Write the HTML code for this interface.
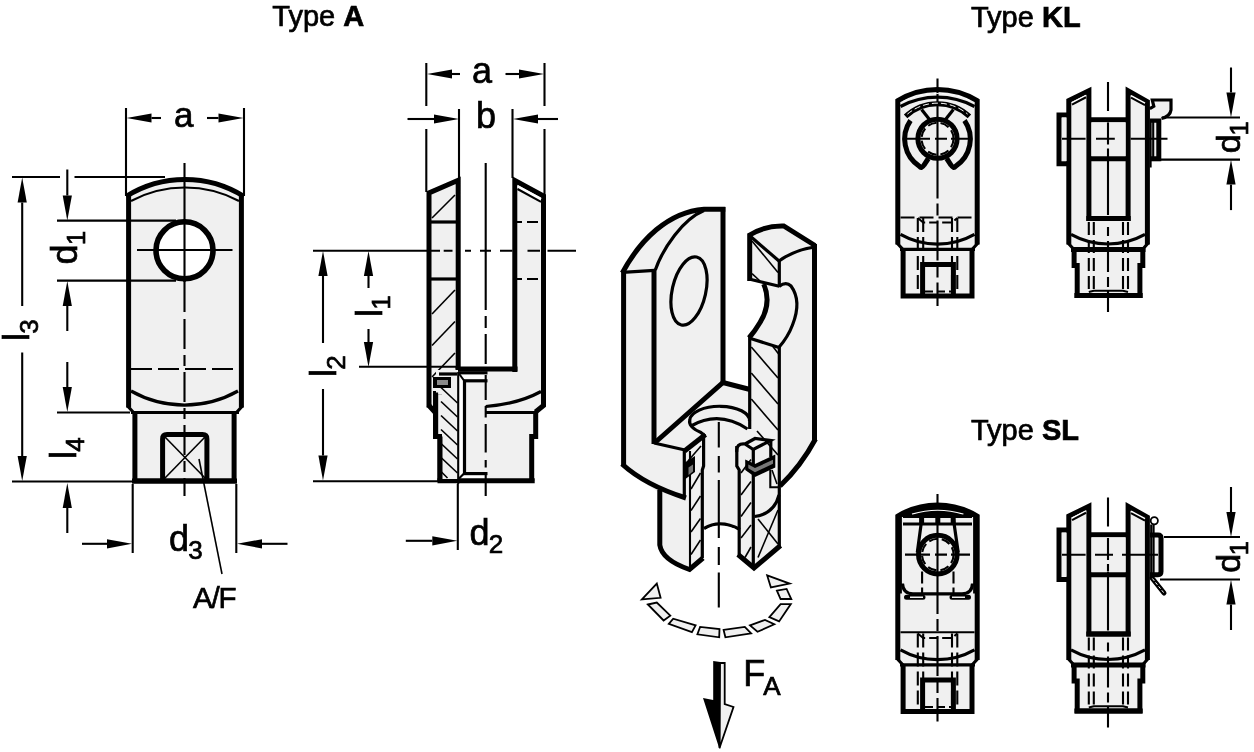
<!DOCTYPE html>
<html lang="en"><head><meta charset="utf-8"><title>Clevis types A, KL, SL</title>
<style>
html,body{margin:0;padding:0;background:#fff;}
body{width:1254px;height:752px;overflow:hidden;}
svg{display:block;font-family:"Liberation Sans",Arial,Helvetica,sans-serif;}
.t{fill:none;stroke:#000;stroke-width:5;stroke-linejoin:miter;}
.m{fill:none;stroke:#000;stroke-width:3.2;}
.n{fill:none;stroke:#000;stroke-width:2.1;}
.h{fill:none;stroke:#000;stroke-width:1.6;}
.f{fill:#000;stroke:none;}
.g{fill:#f0f0f0;stroke:none;}
text{fill:#000;stroke:#000;stroke-width:0.7;}
</style></head><body>
<svg width="1254" height="752" viewBox="0 0 1254 752" style="filter:grayscale(1)">
<rect width="1254" height="752" fill="#fff"/>
<text x="272.3" y="26" font-size="29">Type <tspan font-weight="bold">A</tspan></text>
<text x="971" y="26.5" font-size="29">Type <tspan font-weight="bold">KL</tspan></text>
<text x="971" y="440" font-size="29">Type <tspan font-weight="bold">SL</tspan></text>
<path class="g" d="M128.5,407.5L128.5,196A108,108 0 0 1 241.5,196L241.5,407.5L236.5,412.5L234.5,412.5L234.5,481L134.5,481L134.5,412.5L133.5,412.5Z" />
<path class="n" d="M126,108L126,196" />
<path class="n" d="M244,108L244,196" />
<path class="n" d="M161.0,118.0L151.5,118.0"/>
<path class="f" d="M126.5,118.0L151.5,113.4L151.5,122.6Z"/>
<path class="n" d="M207.0,118.0L218.5,118.0"/>
<path class="f" d="M243.5,118.0L218.5,122.6L218.5,113.4Z"/>
<text x="183.7" y="127.3" font-size="35" text-anchor="middle" font-weight="normal" >a</text>
<path class="n" d="M12,177L60,177" />
<path class="n" d="M74.5,177L165,177" />
<path class="n" d="M12,481.5L133,481.5" />
<path class="n" d="M22.2,306.0L22.2,202.5"/>
<path class="f" d="M22.2,177.5L26.8,202.5L17.6,202.5Z"/>
<path class="n" d="M22.2,352.5L22.2,456.0"/>
<path class="f" d="M22.2,481.0L17.6,456.0L26.8,456.0Z"/>
<text x="29" y="341" font-size="36" transform="rotate(-90 29 341)">l<tspan font-size="26" dy="8.5" dx="-0.8">3</tspan></text>
<path class="n" d="M57,220.6L176,220.6" />
<path class="n" d="M57,280.6L176,280.6" />
<path class="n" d="M67.3,169.5L67.3,195.5"/>
<path class="f" d="M67.3,220.5L62.7,195.5L71.9,195.5Z"/>
<path class="n" d="M67.3,331.0L67.3,306.0"/>
<path class="f" d="M67.3,281.0L71.9,306.0L62.7,306.0Z"/>
<text x="77" y="264.5" font-size="36" transform="rotate(-90 77 264.5)">d<tspan font-size="26" dy="8" dx="-0.8">1</tspan></text>
<path class="n" d="M57,412.5L130,412.5" />
<path class="n" d="M67.3,362.0L67.3,387.0"/>
<path class="f" d="M67.3,412.0L62.7,387.0L71.9,387.0Z"/>
<path class="n" d="M67.3,533.0L67.3,508.0"/>
<path class="f" d="M67.3,483.0L71.9,508.0L62.7,508.0Z"/>
<text x="76" y="459" font-size="36" transform="rotate(-90 76 459)">l<tspan font-size="26" dy="8" dx="-0.8">4</tspan></text>
<path class="n" d="M132.7,484L132.7,553" />
<path class="n" d="M236.3,484L236.3,553" />
<path class="n" d="M82.0,543.8L107.0,543.8"/>
<path class="f" d="M132.0,543.8L107.0,548.4L107.0,539.2Z"/>
<path class="n" d="M287.5,543.8L262.0,543.8"/>
<path class="f" d="M237.0,543.8L262.0,539.2L262.0,548.4Z"/>
<text x="169" y="551" font-size="36" >d<tspan font-size="26" dy="8" dx="-0.8">3</tspan></text>
<path class="n" d="M184.5,163L184.5,312" />
<path class="n" d="M184.5,319L184.5,496" stroke-dasharray="30 6 11 6"/>
<path class="n" d="M137,250L232.5,250" />
<path class="t" d="M128.6,407.5L128.6,194.5M241.4,407.5L241.4,194.5" stroke-width="5.4"/>
<path class="t" d="M126.2,196.4A111,111 0 0 1 243.8,196.4" stroke-width="4.8"/>
<path class="n" d="M131,201A115,115 0 0 1 239,201" stroke-width="2.2"/>
<path class="m" d="M127.6,406L133.5,412.5M242.4,406L236.5,412.5" stroke-width="3.6"/>
<path class="m" d="M131,412.5L239,412.5" />
<path class="m" d="M131,391A109,109 0 0 0 238,391" stroke-width="3.4"/>
<path class="n" d="M131,369L238,369" stroke-dasharray="21 6"/>
<path class="t" d="M134.9,412L134.9,481L234.1,481L234.1,412" stroke-width="6"/>
<path class="t" d="M132,481L237,481" stroke-width="6.4"/>
<circle cx="184.5" cy="250.3" r="28.5" fill="#fff" stroke="#000" stroke-width="5.6"/>
<path class="n" d="M184.5,219L184.5,282" />
<path class="n" d="M156,250L213,250" />
<path class="t" d="M162.6,481L162.6,439Q162.6,434.6 167,434.6L202.5,434.6Q206.9,434.6 206.9,439L206.9,481" stroke-width="5.4"/>
<path class="h" d="M164,436L206,479" stroke-width="2"/>
<path class="h" d="M206,436L164,479" stroke-width="2"/>
<path class="h" d="M199,459L222,574" stroke-width="1.9"/>
<text x="193" y="607.5" font-size="29.5" text-anchor="start" font-weight="normal" letter-spacing="-1.2">A/F</text>
<path class="g" d="M428.8,193L458,180.5L458,369L428.8,369Z" />
<path class="g" d="M428.8,369L458,369L458,481L440,481L440,436L435.5,436L435.5,413L428.8,407Z" />
<path class="g" d="M514.8,181L543.5,196.5L543.5,406L536,412.5L536,436L532,436L532,481L485.7,481L485.7,369L514.8,369Z" />
<path class="g" d="M464.5,381L485.7,381L485.7,474L464.5,474Z" />
<path class="n" d="M426.3,63L426.3,106" />
<path class="n" d="M426.3,129L426.3,192" />
<path class="n" d="M544.5,63L544.5,106" />
<path class="n" d="M544.5,129L544.5,195" />
<path class="n" d="M460.0,74.0L452.0,74.0"/>
<path class="f" d="M427.0,74.0L452.0,69.4L452.0,78.6Z"/>
<path class="n" d="M505.5,74.0L519.0,74.0"/>
<path class="f" d="M544.0,74.0L519.0,78.6L519.0,69.4Z"/>
<text x="482" y="82.5" font-size="36" text-anchor="middle" font-weight="normal" >a</text>
<path class="n" d="M459,109L459,178" />
<path class="n" d="M512.5,109L512.5,178" />
<path class="n" d="M407.5,119.0L434.0,119.0"/>
<path class="f" d="M459.0,119.0L434.0,123.6L434.0,114.4Z"/>
<path class="n" d="M558.0,119.0L538.0,119.0"/>
<path class="f" d="M513.0,119.0L538.0,114.4L538.0,123.6Z"/>
<text x="486" y="127.5" font-size="36" text-anchor="middle" font-weight="normal" >b</text>
<path class="n" d="M313,250.8L440,250.8" />
<path class="n" d="M443.7,250.8H452.5M465,250.8H471M480,250.8H491M500,250.8H512.5M527.5,250.8H540M547.5,250.8H576" />
<path class="n" d="M323.0,343.0L323.0,276.0"/>
<path class="f" d="M323.0,251.0L327.6,276.0L318.4,276.0Z"/>
<path class="n" d="M323.0,389.0L323.0,455.5"/>
<path class="f" d="M323.0,480.5L318.4,455.5L327.6,455.5Z"/>
<text x="336" y="377" font-size="36" transform="rotate(-90 336 377)">l<tspan font-size="26" dy="9" dx="-0.8">2</tspan></text>
<path class="n" d="M368.5,288.0L368.5,276.0"/>
<path class="f" d="M368.5,251.0L373.1,276.0L363.9,276.0Z"/>
<path class="n" d="M368.5,329.0L368.5,342.0"/>
<path class="f" d="M368.5,367.0L363.9,342.0L373.1,342.0Z"/>
<text x="382" y="317" font-size="36" transform="rotate(-90 382 317)">l<tspan font-size="26" dy="8" dx="-0.8">1</tspan></text>
<path class="n" d="M359,366.8L456,366.8" />
<path class="n" d="M313,481.3L440,481.3" />
<path class="n" d="M457.8,484L457.8,550" />
<path class="n" d="M405.8,540.8L432.3,540.8"/>
<path class="f" d="M457.3,540.8L432.3,545.4L432.3,536.2Z"/>
<text x="469.5" y="544.5" font-size="36" >d<tspan font-size="26" dy="8" dx="-0.8">2</tspan></text>
<path class="n" d="M485.7,163V310M485.7,316V328M485.7,334V364M485.7,375V400M485.7,406V417.5M485.7,424V452.5M485.7,460V467.5M485.7,475V496" />
<path class="h" d="M432,218L455,195" />
<path class="h" d="M432,314L455,290" />
<path class="h" d="M432,345.5L455,321.5" />
<path class="h" d="M432,377L455,353" />
<path class="m" d="M431,222L456,222" stroke-width="3.6"/>
<path class="m" d="M431,279L456,279" stroke-width="3.6"/>
<path class="n" d="M517,222L541,222" stroke-dasharray="11 5" stroke-dashoffset="6"/>
<path class="n" d="M517,279L541,279" stroke-dasharray="11 5" stroke-dashoffset="6"/>
<path class="t" d="M429,407.5L429,192.9L458.2,180.2L458.2,369" stroke-width="5.5"/>
<path class="t" d="M514.8,372L514.8,180.5L543.5,196.1L543.5,405.5L535.5,412" stroke-width="5.5"/>
<path class="" d="M517.5,186.3L541,199.1" fill="none" stroke="#fff" stroke-width="2.4"/>
<path class="n" d="M517.5,189L541,201.8" stroke-width="2.3"/>
<path class="t" d="M455.5,369L517.5,369" stroke-width="6.6"/>
<path class="m" d="M458,372.8L487.5,372.8" stroke-width="3.2"/>
<path class="m" d="M485.7,406.5Q518,404 541,391.5" stroke-width="4"/>
<path class="m" d="M485.7,412.5L535,412.5" stroke-width="3.8"/>
<path class="t" d="M535.7,411L535.7,436.5L531.7,436.5L531.7,481" stroke-width="5.4"/>
<path class="t" d="M437.5,480.8L534.7,480.8" stroke-width="5.6"/>
<path class="t" d="M428.5,405L435.6,413L435.6,392.5M435.6,413L435.6,436.5L440,436.5L440,481" stroke-width="5"/>
<path class="m" d="M433,392.6L442,392.6" stroke-width="2.6"/>
<path class="" d="M436,370L458,370L458,479L442,479L442,394L436,394Z" fill="#f0f0f0" stroke="none"/>
<path class="h" d="M441,387.5L457.5,403.0" />
<path class="h" d="M441,401.5L457.5,417.0" />
<path class="h" d="M441,415.5L457.5,431.0" />
<path class="h" d="M441,429.5L457.5,445.0" />
<path class="h" d="M441,443.5L457.5,459.0" />
<path class="h" d="M441,457.5L457.5,473.0" />
<path class="h" d="M441,471.5L447.5,478" />
<path class="t" d="M440,436.5L440,481" stroke-width="5"/>
<path class="t" d="M435.6,392.5L435.6,436.5L440,436.5" stroke-width="5"/>
<path class="n" d="M458.2,372L458.2,484" stroke-width="2"/>
<path class="m" d="M464.5,380L464.5,475" stroke-width="3.2"/>
<path class="m" d="M463,380.8L487.5,380.8" stroke-width="3.6"/>
<path class="m" d="M463,473.6L487.5,473.6" stroke-width="3.6"/>
<path class="n" d="M458.5,373L464,380.5" />
<path class="n" d="M458.5,479L464,473.5" />
<path class="m" d="M439,374L457,374" stroke-width="3"/>
<rect x="433" y="377" width="18" height="11" fill="#000"/>
<rect x="437" y="380" width="11" height="5" fill="#8a8a8a"/>
<path class="g" d="M621.3,271C640,240 668,210 703,207L725,207L725,382L750,389.5L748,389L748,235Q765,224 783.7,224L817,245.5L817,440Q803,463 780,485L781,545.6L754,570L737.5,556L737.5,529Q720,520 704,528.5L703,558L689,571Q660,560 657.6,545.6L657.6,492L621.3,466Z" />
<path class="" d="M746,279.5L763.7,284Q772,303 760,322.5Q755,331 749,338L746,338Z" fill="#fff" stroke="none"/>
<path class="t" d="M623.6,270L623.6,466" stroke-width="5"/>
<path class="t" d="M654,269L654,444" stroke-width="4.2"/>
<path class="t" d="M723,207L723,383.5" stroke-width="4.6"/>
<path class="m" d="M622.5,272.3L654.5,270.3" stroke-width="3.2"/>
<path class="t" d="M622.3,273C640,240 668,212 704,209.2L725.3,209.2" stroke-width="4.6"/>
<path class="m" d="M655.3,270C663,248 683,219 704,210.5" stroke-width="3"/>
<ellipse cx="689" cy="291" rx="16.8" ry="34.8" transform="rotate(12.7 689 291)" class="m" stroke-width="3"/>
<path class="t" d="M654.5,443L723,382.5L750,389.5" stroke-width="4"/>
<path class="m" d="M654,443L685,450" stroke-width="3.6"/>
<path class="m" d="M684.3,449L684.3,498" stroke-width="3.6"/>
<path class="t" d="M684.5,451L705.5,434.5" stroke-width="5.2"/>
<path class="t" d="M622,464Q645,485 686,498" stroke-width="5"/>
<path class="m" d="M749.5,421A29.8,14.2 0 0 0 689.8,420Q688,427 701,432.5L705,436" stroke-width="3.6"/>
<path class="m" d="M691,426Q719,410 747.5,429" stroke-width="3"/>
<path class="t" d="M749.7,281L749.7,235Q765,225.5 783.7,226L815,245.5" stroke-width="4.2"/>
<path class="t" d="M814.5,244L814.5,441" stroke-width="5"/>
<path class="m" d="M749.5,235.5L779,261" stroke-width="3.6"/>
<path class="m" d="M779,261Q794,250 815,247" stroke-width="3"/>
<path class="m" d="M779.3,260L779.3,287" stroke-width="3"/>
<path class="m" d="M749,279L779.3,286.3" stroke-width="3.2"/>
<path class="t" d="M763.7,284Q772,303 760,322.5Q755,331 749,338" stroke-width="4.4"/>
<path class="m" d="M779,286.5Q786,281 791,286Q802,301 792.5,325Q788,337 778.8,347.5" stroke-width="3.2"/>
<path class="m" d="M749,338L779,347.5" stroke-width="3.6"/>
<path class="m" d="M749.7,337L749.7,429" stroke-width="3.6"/>
<path class="m" d="M779.3,346.5L779.3,546" stroke-width="3.2"/>
<path class="h" d="M752,241L778,272.5" />
<path class="h" d="M752,273.7L760,281" />
<path class="h" d="M772.5,346L779,354.5" />
<path class="h" d="M751.3,347L778,378" />
<path class="h" d="M751.3,373L778,404" />
<path class="h" d="M751.3,399L778,430" />
<path class="h" d="M757,431L778,455" />
<path class="t" d="M815.5,439Q801,466 780,486" stroke-width="4.4"/>
<path class="h" d="M772,470L777,484" />
<path class="n" d="M770.3,470L770.3,487.3L779,487.3" stroke-width="2.8"/>
<path class="n" d="M690,451L690,569" stroke-width="2.6"/>
<path class="m" d="M753.3,449L753.3,568" stroke-width="4.2"/>
<path class="m" d="M736.8,452Q736,443 745,444L755,438.5L770.5,440.5L753.3,449.5L745,444" stroke-width="3.8"/>
<path class="m" d="M770.8,440L770.8,457" stroke-width="3.8"/>
<path class="h" d="M688,461L701,446" />
<path class="h" d="M691,489L700.5,473" />
<path class="h" d="M691,510.5L700.5,496" />
<path class="h" d="M691,532L700.5,518.5" />
<path class="h" d="M691,554.5L700.5,540" />
<path class="h" d="M741,473L751,459.5" />
<path class="h" d="M741,495L751,481.5" />
<path class="h" d="M741,516.5L751,502.5" />
<path class="h" d="M741,538L751,525" />
<path class="h" d="M745,557.5L751,547" />
<path class="f" d="M745.2,459.5L755,464L775.3,454.5L775.3,467.5L755,477L745.2,470Z" />
<path class="" d="M748.3,464.6L755,468L773,459.8L773,463.8L755,472.3L748.3,468.2Z" fill="#787878" stroke="none"/>
<path class="f" d="M684,463L695,456L695,472L684,480Z" />
<path class="" d="M688.5,467.5L693,464.5L693,471.5L688.5,475Z" fill="#787878" stroke="none"/>
<path class="t" d="M659.8,490L659.8,545Q662,560 689.5,569.5L703,558" stroke-width="4.6"/>
<path class="m" d="M704,528.5Q720,519 740,529.5" stroke-width="3.6"/>
<path class="t" d="M738,554.5L754,568L780.5,545.5" stroke-width="4.8"/>
<path class="m" d="M754.5,516.5Q770,514.5 776.5,502L779,495" stroke-width="3.8"/>
<path class="h" d="M758,519L778,544" stroke-width="1.8"/>
<path class="h" d="M778,510L758,557.5" stroke-width="1.8"/>
<path class="" d="M705.7,530Q720,521.5 737.5,530.5L737.5,553L704.5,556Z" fill="#fff" stroke="none"/>
<path class="m" d="M703.6,434L703.6,466L702.3,470L702.3,558" stroke-width="4.4"/>
<path class="m" d="M736.8,446L736.8,466L739.2,470L739.2,556" stroke-width="4.8"/>
<path class="n" d="M718.8,422V447.5M718.8,456V472.5M718.8,480V538M718.8,547V565M718.8,572.5V607.5" />
<path d="M641.9,599.3L656.8,583.6L660.6,597.8Z" fill="#f0f0f0" stroke="#000" stroke-width="1.8" stroke-linejoin="miter"/>
<path d="M767.2,575.4L789.6,583.6L770.9,587.4Z" fill="#f0f0f0" stroke="#000" stroke-width="1.8" stroke-linejoin="miter"/>
<path d="M647.9,604.5L656.8,602.6L670.3,615.7L663.6,620.5Z" fill="#f0f0f0" stroke="#000" stroke-width="1.8" stroke-linejoin="miter"/>
<path d="M668.8,623.9L673.2,618.7L695.6,625.4L691.9,632.1Z" fill="#f0f0f0" stroke="#000" stroke-width="1.8" stroke-linejoin="miter"/>
<path d="M697.4,634.3L700.1,626.9L719.5,629.1L719.2,637.3Z" fill="#f0f0f0" stroke="#000" stroke-width="1.8" stroke-linejoin="miter"/>
<path d="M723.6,629.9L744.8,626.9L751.1,633.3L725.4,637.3Z" fill="#f0f0f0" stroke="#000" stroke-width="1.8" stroke-linejoin="miter"/>
<path d="M750,625.4L765,619.9L774.3,624.3L757.5,631.8Z" fill="#f0f0f0" stroke="#000" stroke-width="1.8" stroke-linejoin="miter"/>
<path d="M769.4,617.2L780.6,604.1L790.8,604.1L779.1,621.4Z" fill="#f0f0f0" stroke="#000" stroke-width="1.8" stroke-linejoin="miter"/>
<path d="M776.9,590.6L786.6,588.9L791.3,599L780.6,599Z" fill="#f0f0f0" stroke="#000" stroke-width="1.8" stroke-linejoin="miter"/>
<path class="" d="M720,663L724.7,663L724.7,704L733.5,707L719.5,748Z" fill="#f0f0f0" stroke="#000" stroke-width="1.8"/>
<path class="f" d="M713.2,661L720.3,662L720.3,748.5L719.3,748.5L703,698L713.2,700Z" />
<text x="743.3" y="686.3" font-size="36">F<tspan font-size="26" dy="8.2" dx="-2">A</tspan></text>
<path class="g" d="M897.8,101A79,79 0 0 1 977.2,101L977.2,245L972,250L972,296L903,296L903,250L897.8,245Z" />
<path class="n" d="M937.5,78.5L937.5,306" stroke-dasharray="120 5 12 5 40 5 12 5"/>
<path class="n" d="M917.8,218L917.8,293" stroke-dasharray="14 5" stroke-width="1.9"/>
<path class="n" d="M923.2,218L923.2,293" stroke-dasharray="14 5" stroke-width="1.9"/>
<path class="n" d="M952,218L952,293" stroke-dasharray="14 5" stroke-width="1.9"/>
<path class="n" d="M957.3,218L957.3,293" stroke-dasharray="14 5" stroke-width="1.9"/>
<path class="n" d="M917.8,218L923.2,222.5L952,222.5L957.3,218" stroke-width="1.8" stroke-dasharray="9 4"/>
<path class="t" d="M897.8,244.5L897.8,100.6A76,76 0 0 1 977.2,100.6L977.2,244.5" stroke-width="5.8"/>
<path class="m" d="M897,243L903,249.5M978,243L972,249.5" stroke-width="3.8"/>
<path class="m" d="M900,249.4L975,249.4" stroke-width="3.8"/>
<path class="m" d="M900.5,234.4A75,75 0 0 0 974.5,234.4" stroke-width="3.2"/>
<path class="t" d="M903.1,249L903.1,296.1L972,296.1L972,249" stroke-width="5.6"/>
<path class="t" d="M922.6,294L922.6,264.6L953.4,264.6L953.4,294" stroke-width="4.6"/>
<path class="n" d="M925,291.5L951,291.5" stroke-width="1.6" stroke-dasharray="8 4"/>
<path class="m" d="M900.5,106.5A78,78 0 0 1 974.5,106.5" stroke-width="3.2"/>
<path class="" d="M903,101.5A78,78 0 0 1 972,101.5" fill="none" stroke="#fff" stroke-width="1" stroke-dasharray="5 3"/>
<path class="n" d="M900.5,217.5L974.5,217.5" stroke-dasharray="14 5" stroke-width="1.9"/>
<path class="t" d="M905.6,116.4A46.3,46.3 0 0 1 969.4,116.4" stroke-width="8.8"/>
<path class="" d="M907.4,114.1A46.8,46.8 0 0 1 967.6,114.1" fill="none" stroke="#fff" stroke-width="1" stroke-dasharray="6 3"/>
<path class="t" d="M910.5,120.5A32.6,32.6 0 0 0 919.5,166.4Q921.5,169 924,165L928.3,158.5" stroke-width="3.8" stroke-linejoin="round"/>
<path class="t" d="M964.5,120.5A32.6,32.6 0 0 1 955.5,166.4Q953.5,169 951,165L946.7,158.5" stroke-width="3.8" stroke-linejoin="round"/>
<path class="m" d="M921.6,109.5L929.5,119.5" stroke-width="3.8"/>
<path class="m" d="M953.4,109.5L945.5,119.5" stroke-width="3.8"/>
<circle cx="937.5" cy="138.75" r="19.6" class="t" stroke-width="4"/>
<circle cx="937.5" cy="138.75" r="16" class="n" stroke-width="1.6" stroke-dasharray="9 4"/>
<path class="n" d="M905.6,138.75H930M935,138.75H947M951,138.75H969.4" stroke-width="1.9"/>
<path class="g" d="M1068.7,99L1088.8,89L1088.8,218L1128,218L1128,89L1147.3,100L1147.3,245L1142.8,250L1142.8,265L1140,265L1140,296L1077,296L1077,265L1074,265L1074,250L1068.7,245Z" />
<path class="g" d="M1088.8,160L1128,160L1128,218L1088.8,218Z" />
<path class="n" d="M1108,82V111M1108,122.5V144.5M1108,148.5V215M1108,227V236M1108,241V272M1108,277V287M1108,291V312" />
<path class="n" d="M1088.8,222L1088.8,292" stroke-dasharray="13 5" stroke-width="1.9"/>
<path class="n" d="M1093.8,222L1093.8,292" stroke-dasharray="13 5" stroke-width="1.9"/>
<path class="n" d="M1123,222L1123,292" stroke-dasharray="13 5" stroke-width="1.9"/>
<path class="n" d="M1128,222L1128,292" stroke-dasharray="13 5" stroke-width="1.9"/>
<path class="n" d="M1088.8,292L1093.8,290.8L1123,290.8L1128,292" stroke-width="1.6"/>
<path class="t" d="M1068.8,244.5L1068.8,100.6L1088.9,90.8L1088.9,218.5L1128.1,218.5L1128.1,90.8L1147.4,101.8L1147.4,244.5" stroke-width="5.2"/>
<path class="t" d="M1086.3,218.5L1130.7,218.5" stroke-width="6.6"/>
<path class="" d="M1072,102.6L1086,95.3" fill="none" stroke="#fff" stroke-width="1.5"/>
<path class="n" d="M1072,104.6L1086,97.3" stroke-width="1.6"/>
<path class="" d="M1131,95.6L1145,103.2" fill="none" stroke="#fff" stroke-width="1.5"/>
<path class="n" d="M1131,97.6L1145,105.2" stroke-width="1.6"/>
<path class="m" d="M1071,234.4A76,76 0 0 0 1145,234.4" stroke-width="3.2"/>
<path class="m" d="M1068,243L1074,249.5M1148.2,243L1142.5,249.5" stroke-width="3.8"/>
<path class="t" d="M1071,249.5L1145.5,249.5" stroke-width="5"/>
<path class="t" d="M1074.1,249L1074.1,265.5L1077.2,265.5L1077.2,295.5L1139.9,295.5L1139.9,265.5L1142.8,265.5L1142.8,249" stroke-width="5.6"/>
<path class="t" d="M1074.4,295.5L1142.7,295.5" stroke-width="6"/>
<path class="t" d="M1069,115L1059,115L1059,163.7L1069,163.7" stroke-width="5.4"/>
<path class="g" d="M1062,117.5H1066.5V161H1062Z" />
<path class="t" d="M1088,119.8L1129,119.8" stroke-width="5.4"/>
<path class="t" d="M1088,158.8L1129,158.8" stroke-width="5.4"/>
<path class="g" d="M1091.5,122.5H1125.5V156H1091.5Z" />
<path class="g" d="M1151,118L1160,118L1160,162L1151,162Z" />
<path class="t" d="M1150,120.2L1158.8,120.2L1158.8,158.8L1150,158.8" stroke-width="5"/>
<path class="n" d="M1150.6,108L1150.6,167.5" stroke-width="1.8"/>
<path class="n" d="M1153.2,122L1153.2,157" stroke-width="1.5"/>
<path class="g" d="M1150,108.7L1153.8,106.3L1152.3,100L1171,100L1171,110Q1170,116.5 1162,118.5L1150,118.5Z" />
<path class="m" d="M1149.8,108.7L1153.8,106.3L1152.3,100L1171,100L1171,110Q1170,116.5 1161.5,118.5" stroke-width="3"/>
<path class="n" d="M1062,138.75H1085.6M1096,138.75H1114.8M1130.6,138.75H1167.5" stroke-width="1.9"/>
<path class="n" d="M1108,122.5V144.5M1108,148.5V156" />
<path class="n" d="M1162,117.5L1240,117.5" />
<path class="n" d="M1160,159.6L1240,159.6" />
<path class="n" d="M1231.0,67.5L1231.0,92.5"/>
<path class="f" d="M1231.0,117.5L1226.4,92.5L1235.6,92.5Z"/>
<path class="n" d="M1231.0,210.1L1231.0,184.6"/>
<path class="f" d="M1231.0,159.6L1235.6,184.6L1226.4,184.6Z"/>
<text x="1239.8" y="153.15" font-size="34" transform="rotate(-90 1239.8 153.15)">d<tspan font-size="26" dy="8" dx="-1.5">1</tspan></text>
<path class="g" d="M897.8,516.5A79,79 0 0 1 977.2,516.5L977.2,660.5L972,665.5L972,711.5L903,711.5L903,665.5L897.8,660.5Z" />
<path class="n" d="M937.5,494.0L937.5,721.5" stroke-dasharray="120 5 12 5 40 5 12 5"/>
<path class="n" d="M917.8,633.5L917.8,708.5" stroke-dasharray="14 5" stroke-width="1.9"/>
<path class="n" d="M923.2,633.5L923.2,708.5" stroke-dasharray="14 5" stroke-width="1.9"/>
<path class="n" d="M952,633.5L952,708.5" stroke-dasharray="14 5" stroke-width="1.9"/>
<path class="n" d="M957.3,633.5L957.3,708.5" stroke-dasharray="14 5" stroke-width="1.9"/>
<path class="n" d="M917.8,633.5L923.2,638.0L952,638.0L957.3,633.5" stroke-width="1.8" stroke-dasharray="9 4"/>
<path class="t" d="M897.8,660.0L897.8,516.1A76,76 0 0 1 977.2,516.1L977.2,660.0" stroke-width="5.8"/>
<path class="m" d="M897,658.5L903,665.0M978,658.5L972,665.0" stroke-width="3.8"/>
<path class="m" d="M900,664.9L975,664.9" stroke-width="3.8"/>
<path class="m" d="M900.5,649.9A75,75 0 0 0 974.5,649.9" stroke-width="3.2"/>
<path class="t" d="M903.1,664.5L903.1,711.6L972,711.6L972,664.5" stroke-width="5.6"/>
<path class="t" d="M922.6,709.5L922.6,680.1L953.4,680.1L953.4,709.5" stroke-width="4.6"/>
<path class="n" d="M925,707.0L951,707.0" stroke-width="1.6" stroke-dasharray="8 4"/>
<path class="t" d="M899.4,516.5L899.4,593.5" stroke-width="8.8"/>
<path class="t" d="M975.6,516.5L975.6,593.5" stroke-width="8.8"/>
<path class="f" d="M897,516.0A76,76 0 0 1 978,516.0L978,517.1L897,517.1Z" />
<path class="" d="M912,514.1A90,90 0 0 1 963.4,514.1" fill="none" stroke="#fff" stroke-width="1.1"/>
<path class="m" d="M903,516.3L972,516.3" stroke-width="2.6"/>
<path class="m" d="M903,524.0L972,524.0" stroke-width="2.4"/>
<path class="t" d="M921.6,515.5L921.6,524.0" stroke-width="5.2"/>
<path class="t" d="M937.8,515.5L937.8,524.0" stroke-width="3.6"/>
<path class="t" d="M953.2,515.5L953.2,524.0" stroke-width="5.2"/>
<path class="m" d="M922,517.5L917.3,552.5M953.2,517.5L958.2,552.5" stroke-width="3.8"/>
<circle cx="937.8" cy="554.6" r="19.3" class="t" stroke-width="4.2"/>
<circle cx="937.8" cy="554.6" r="15.8" class="n" stroke-width="1.6" stroke-dasharray="9 4"/>
<path class="n" d="M905,554.6H930M935,554.6H947M951,554.6H970" stroke-width="1.9"/>
<path class="n" d="M922.1,571.5L922.1,593.5" stroke-dasharray="12 4" stroke-width="2.4"/>
<path class="n" d="M953.5,571.5L953.5,593.5" stroke-dasharray="12 4" stroke-width="2.4"/>
<path class="m" d="M902.5,583.5Q903,593.8 913,593.8L962,593.8Q972,593.8 972.5,583.5" stroke-width="3"/>
<path class="t" d="M906.5,597.2L923,597.2M952,597.2L968.5,597.2" stroke-width="7.4" stroke-linecap="round"/>
<path class="" d="M910,597.2L923,597.2M952,597.2L965,597.2" fill="none" stroke="#f0f0f0" stroke-width="1.6"/>
<path class="n" d="M900.5,632.3L974.5,632.3" stroke-width="1.9"/>
<path class="g" d="M1068.7,514.5L1088.8,504.5L1088.8,633.5L1128,633.5L1128,504.5L1147.3,515.5L1147.3,660.5L1142.8,665.5L1142.8,680.5L1140,680.5L1140,711.5L1077,711.5L1077,680.5L1074,680.5L1074,665.5L1068.7,660.5Z" />
<path class="g" d="M1088.8,575.5L1128,575.5L1128,633.5L1088.8,633.5Z" />
<path class="n" d="M1108,497.5V526.5M1108,538.0V560.0M1108,564.0V630.5M1108,642.5V651.5M1108,656.5V687.5M1108,692.5V702.5M1108,706.5V727.5" />
<path class="n" d="M1088.8,637.5L1088.8,707.5" stroke-dasharray="13 5" stroke-width="1.9"/>
<path class="n" d="M1093.8,637.5L1093.8,707.5" stroke-dasharray="13 5" stroke-width="1.9"/>
<path class="n" d="M1123,637.5L1123,707.5" stroke-dasharray="13 5" stroke-width="1.9"/>
<path class="n" d="M1128,637.5L1128,707.5" stroke-dasharray="13 5" stroke-width="1.9"/>
<path class="n" d="M1088.8,707.5L1093.8,706.3L1123,706.3L1128,707.5" stroke-width="1.6"/>
<path class="t" d="M1068.8,660.0L1068.8,516.1L1088.9,506.3L1088.9,634.0L1128.1,634.0L1128.1,506.3L1147.4,517.3L1147.4,660.0" stroke-width="5.2"/>
<path class="t" d="M1086.3,634.0L1130.7,634.0" stroke-width="6.6"/>
<path class="" d="M1072,518.1L1086,510.8" fill="none" stroke="#fff" stroke-width="1.5"/>
<path class="n" d="M1072,520.1L1086,512.8" stroke-width="1.6"/>
<path class="" d="M1131,511.1L1145,518.7" fill="none" stroke="#fff" stroke-width="1.5"/>
<path class="n" d="M1131,513.1L1145,520.7" stroke-width="1.6"/>
<path class="m" d="M1071,649.9A76,76 0 0 0 1145,649.9" stroke-width="3.2"/>
<path class="m" d="M1068,658.5L1074,665.0M1148.2,658.5L1142.5,665.0" stroke-width="3.8"/>
<path class="t" d="M1071,665.0L1145.5,665.0" stroke-width="5"/>
<path class="t" d="M1074.1,664.5L1074.1,681.0L1077.2,681.0L1077.2,711.0L1139.9,711.0L1139.9,681.0L1142.8,681.0L1142.8,664.5" stroke-width="5.6"/>
<path class="t" d="M1074.4,711.0L1142.7,711.0" stroke-width="6"/>
<path class="t" d="M1069,530.0L1059,530.0L1059,579.5L1069,579.5" stroke-width="5.4"/>
<path class="g" d="M1062,532.7H1066.5V576.7H1062Z" />
<path class="t" d="M1088,534.8L1129,534.8" stroke-width="5.4"/>
<path class="t" d="M1088,574.8L1129,574.8" stroke-width="5.4"/>
<path class="g" d="M1091.5,537.5H1125.5V572.1H1091.5Z" />
<path class="g" d="M1151,533.5L1161,533.5L1161,576.5L1151,576.5Z" />
<path class="t" d="M1150,535.0L1158,535.0Q1161,535.0 1161,538.0L1161,571.5Q1161,574.7 1158,574.7L1150,574.7" stroke-width="5.2"/>
<circle cx="1154.3" cy="520.8" r="3.6" fill="#fff" stroke="#000" stroke-width="1.8"/>
<path class="n" d="M1151.2,524.5V576.5M1153.6,524.5V576.5" stroke-width="1.3"/>
<path class="t" d="M1152,578.0L1164,593.0" stroke-width="4.2" stroke-linecap="round"/>
<path class="" d="M1152.4,578.5L1163.7,592.7" fill="none" stroke="#fff" stroke-width="1" stroke-dasharray="3 2"/>
<path class="n" d="M1062,554.8H1085.6M1095,554.8H1113M1122,554.8H1158" stroke-width="1.9"/>
<path class="n" d="M1108,538.0V560.0M1108,564.0V571.5" />
<path class="n" d="M1164,537.0L1240,537.0" />
<path class="n" d="M1160,579.5L1240,579.5" />
<path class="n" d="M1231.0,487.0L1231.0,512.0"/>
<path class="f" d="M1231.0,537.0L1226.4,512.0L1235.6,512.0Z"/>
<path class="n" d="M1231.0,630.0L1231.0,604.5"/>
<path class="f" d="M1231.0,579.5L1235.6,604.5L1226.4,604.5Z"/>
<text x="1239.8" y="572.85" font-size="34" transform="rotate(-90 1239.8 572.85)">d<tspan font-size="26" dy="8" dx="-1.5">1</tspan></text>
</svg>
</body></html>
